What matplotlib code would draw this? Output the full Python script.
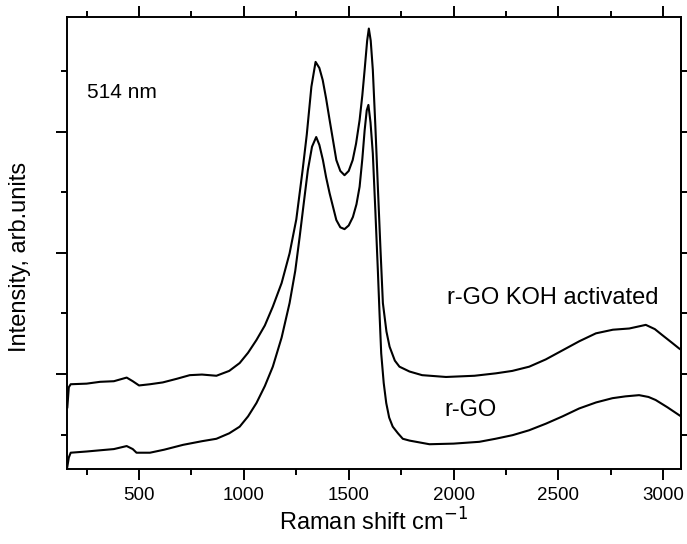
import numpy as np
import matplotlib.pyplot as plt
from matplotlib.ticker import MultipleLocator, NullFormatter

plt.rcParams['font.family'] = ['Liberation Sans', 'DejaVu Sans']

# Raman spectra, 514 nm excitation (arb. units, offset for clarity)
koh_shift = [158, 165, 174, 250, 314, 380, 441, 470, 500, 552, 613, 680, 742, 800, 869,
             930, 980, 1020, 1060, 1100, 1138, 1180, 1218, 1250, 1280, 1300, 1322, 1342,
             1360, 1376, 1392, 1409, 1441, 1460, 1480, 1500, 1519, 1535, 1552, 1565, 1576,
             1588, 1596, 1605, 1615, 1627, 1639, 1651, 1663, 1680, 1695, 1720, 1742, 1790,
             1850, 1964, 2100, 2202, 2280, 2361, 2440, 2520, 2600, 2679, 2760, 2838, 2917,
             2960, 2996, 3040, 3076, 3085]
koh_int = [1.45, 1.78, 1.83, 1.84, 1.87, 1.88, 1.94, 1.88, 1.81, 1.83, 1.86, 1.92, 1.98,
           1.99, 1.97, 2.05, 2.18, 2.35, 2.56, 2.80, 3.11, 3.50, 3.99, 4.55, 5.36, 5.95,
           6.74, 7.15, 7.05, 6.85, 6.55, 6.19, 5.53, 5.35, 5.28, 5.35, 5.53, 5.80, 6.19,
           6.60, 7.02, 7.50, 7.70, 7.50, 7.02, 6.10, 5.09, 4.10, 3.17, 2.70, 2.45, 2.22,
           2.12, 2.04, 1.98, 1.95, 1.97, 2.01, 2.05, 2.12, 2.24, 2.39, 2.54, 2.67, 2.73,
           2.75, 2.81, 2.74, 2.64, 2.52, 2.42, 2.40]

rgo_shift = [158, 165, 174, 250, 314, 380, 441, 470, 488, 552, 620, 710, 800, 869, 930,
             980, 1020, 1060, 1100, 1138, 1180, 1218, 1245, 1266, 1285, 1305, 1325, 1345,
             1360, 1377, 1392, 1409, 1441, 1460, 1480, 1500, 1520, 1537, 1552, 1565, 1576,
             1586, 1594, 1604, 1615, 1627, 1639, 1647, 1655, 1667, 1679, 1693, 1710, 1735,
             1758, 1790, 1885, 2000, 2123, 2200, 2282, 2360, 2441, 2520, 2599, 2680, 2758,
             2820, 2885, 2930, 2964, 3020, 3076, 3085]
rgo_int = [0.47, 0.62, 0.70, 0.72, 0.74, 0.76, 0.81, 0.76, 0.70, 0.70, 0.75, 0.83, 0.89,
           0.93, 1.02, 1.13, 1.30, 1.52, 1.80, 2.12, 2.60, 3.17, 3.70, 4.26, 4.80, 5.36,
           5.75, 5.91, 5.78, 5.53, 5.25, 4.98, 4.54, 4.42, 4.39, 4.45, 4.59, 4.80, 5.09,
           5.55, 6.02, 6.35, 6.44, 6.15, 5.64, 4.70, 3.71, 3.00, 2.34, 1.85, 1.52, 1.28,
           1.13, 1.02, 0.93, 0.90, 0.84, 0.85, 0.88, 0.93, 0.99, 1.07, 1.18, 1.30, 1.43,
           1.53, 1.60, 1.63, 1.65, 1.62, 1.57, 1.45, 1.32, 1.30]

fig = plt.figure(figsize=(6.87, 5.44), dpi=100)
ax = fig.add_axes([0.0971, 0.1384, 0.8942, 0.8298])

ax.plot(koh_shift, koh_int, color='black', lw=1.5)
ax.plot(rgo_shift, rgo_int, color='black', lw=1.5)

ax.set_xlim(155, 3085)
ax.set_ylim(0.436, 7.886)

ax.xaxis.set_major_locator(MultipleLocator(500))
ax.xaxis.set_minor_locator(MultipleLocator(250))
ax.yaxis.set_major_locator(MultipleLocator(2))
ax.yaxis.set_minor_locator(MultipleLocator(1))
ax.yaxis.set_major_formatter(NullFormatter())

for s in ax.spines.values():
    s.set_linewidth(1.4)
ax.tick_params(which='both', direction='out', width=1.4, top=True, right=False,
               labelsize=13.5, pad=5)
ax.tick_params(which='major', length=8)
ax.tick_params(which='minor', length=4)

# short ticks on the right edge at every unit
sec = ax.secondary_yaxis('right')
sec.yaxis.set_major_locator(MultipleLocator(1))
sec.tick_params(direction='out', length=4, width=1.4, labelright=False)
sec.spines['right'].set_linewidth(1.4)

ax.set_xlabel('Raman shift cm$^{-1}$', fontsize=17, labelpad=3)
ax.set_ylabel('Intensity, arb.units', fontsize=17)
ax.yaxis.set_label_coords(-0.058, 0.47)

ax.text(252, 6.65, '514 nm', fontsize=15, va='center', ha='left')
ax.text(2475, 3.25, 'r-GO KOH activated', fontsize=17, va='center', ha='center')
ax.text(2080, 1.4, 'r-GO', fontsize=17, va='center', ha='center')

fig.savefig('out.png', dpi=100)
